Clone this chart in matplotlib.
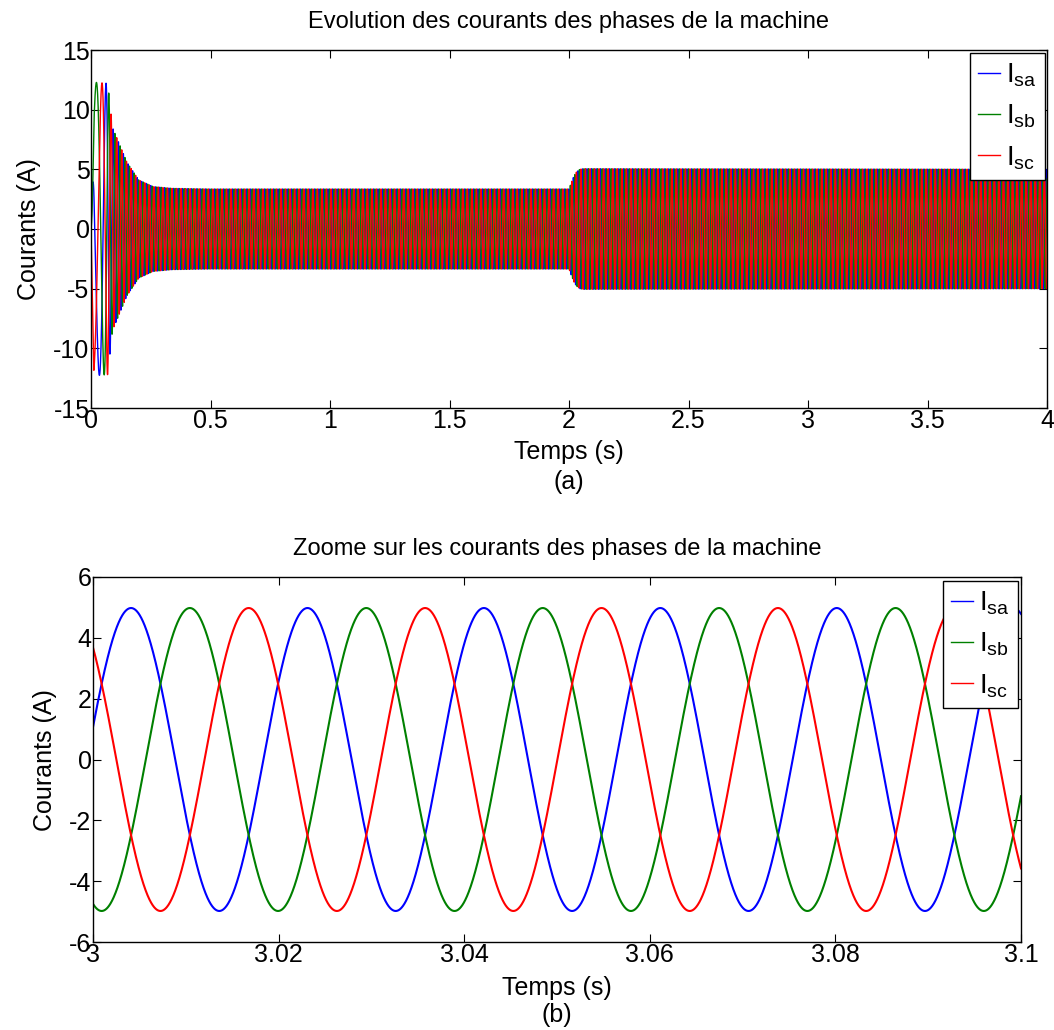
import numpy as np
import matplotlib
matplotlib.use("Agg")
import matplotlib.pyplot as plt

plt.rcParams['font.family'] = ['Liberation Sans', 'DejaVu Sans']
plt.rcParams['mathtext.fontset'] = 'custom'
plt.rcParams['mathtext.rm'] = 'Liberation Sans'
plt.rcParams['axes.unicode_minus'] = False

# ---------------- data ----------------
series_names = [r'$\mathregular{I_{sa}}$', r'$\mathregular{I_{sb}}$', r'$\mathregular{I_{sc}}$']
series_colors = ['#0000ff', '#008000', '#ff0000']
phase_shift_deg = [0, -120, -240]

# (a) full simulation 0..4 s : instantaneous electrical frequency (Hz)
freq_t = [0.0, 0.02, 0.045, 0.06, 0.075, 0.10, 0.15, 0.20, 4.0]
freq_hz = [8.0, 12.0, 16.0, 22.0, 33.0, 45.0, 52.0, 52.6, 52.6]
# current amplitude envelope (A)
amp_t = [0.0, 0.012, 0.07, 0.09, 0.15, 0.20, 0.26, 0.34, 0.50, 2.0, 2.01, 2.02, 2.03, 2.045, 2.06, 4.0]
amp_a = [0.0, 12.3, 12.2, 8.5, 5.6, 4.1, 3.55, 3.4, 3.35, 3.35, 3.9, 4.4, 4.75, 5.0, 5.05, 5.0]
start_phase_pi = 0.2

# (b) zoom 3.0..3.1 s
zoom_freq_hz = 52.6
zoom_amp = 4.98
zoom_blue_peak_t = 3.0041

xticks_a = [0, 0.5, 1, 1.5, 2, 2.5, 3, 3.5, 4]
xticklabels_a = ['0', '0.5', '1', '1.5', '2', '2.5', '3', '3.5', '4']
yticks_a = [-15, -10, -5, 0, 5, 10, 15]
xticks_b = [3, 3.02, 3.04, 3.06, 3.08, 3.1]
xticklabels_b = ['3', '3.02', '3.04', '3.06', '3.08', '3.1']
yticks_b = [-6, -4, -2, 0, 2, 4, 6]

title_a = 'Evolution des courants des phases de la machine'
title_b = 'Zoome sur les courants des phases de la machine'

# ---------------- build signals ----------------
t_a = np.linspace(0, 4, 80001)
dt = t_a[1] - t_a[0]
f_inst = np.interp(t_a, freq_t, freq_hz)
theta = start_phase_pi * np.pi + 2 * np.pi * np.concatenate([[0], np.cumsum(f_inst[:-1]) * dt])
env = np.interp(t_a, amp_t, amp_a)

t_b = np.linspace(3.0, 3.1, 6001)
theta_b = 2 * np.pi * zoom_freq_hz * (t_b - zoom_blue_peak_t)

W, H = 1054, 1030
fig = plt.figure(figsize=(W / 100, H / 100), dpi=100)

def fx(px):
    return px / W

def fy(py):
    return 1 - py / H

ax1 = fig.add_axes([fx(91), fy(408), fx(1047 - 91), (408 - 50) / H])
ax2 = fig.add_axes([fx(93), fy(942), fx(1021 - 93), (942 - 577) / H])

for name, col, ph in zip(series_names, series_colors, phase_shift_deg):
    ax1.plot(t_a, env * np.cos(theta + np.deg2rad(ph)), color=col, lw=1.0, label=name)
    ax2.plot(t_b, zoom_amp * np.cos(theta_b + np.deg2rad(ph)), color=col, lw=1.5, label=name)

tick_fs = 18
for ax in (ax1, ax2):
    ax.tick_params(direction='in', top=True, right=True, length=6, width=0.8,
                   labelsize=tick_fs, pad=1)
    for s in ax.spines.values():
        s.set_linewidth(1.0)

ax1.set_xlim(0, 4)
ax1.set_ylim(-15, 15)
ax1.set_xticks(xticks_a)
ax1.set_xticklabels(xticklabels_a)
ax1.set_yticks(yticks_a)

ax2.set_xlim(3.0, 3.1)
ax2.set_ylim(-6, 6)
ax2.set_xticks(xticks_b)
ax2.set_xticklabels(xticklabels_b)
ax2.set_yticks(yticks_b)

# titles / labels
fig.text(fx(569), fy(22), title_a, ha='center', va='center', fontsize=17)
fig.text(fx(557), fy(549), title_b, ha='center', va='center', fontsize=17)
fig.text(fx(569), fy(452), 'Temps (s)', ha='center', va='center', fontsize=18)
fig.text(fx(569), fy(482), '(a)', ha='center', va='center', fontsize=18)
fig.text(fx(557), fy(988), 'Temps (s)', ha='center', va='center', fontsize=18)
fig.text(fx(557), fy(1015), '(b)', ha='center', va='center', fontsize=18)
fig.text(fx(29), fy(229), 'Courants (A)', ha='center', va='center', rotation=90, fontsize=18)
fig.text(fx(45), fy(760), 'Courants (A)', ha='center', va='center', rotation=90, fontsize=18)

leg_kw = dict(loc='upper right', fontsize=20, handlelength=0.8, handletextpad=0.2,
              borderpad=0.3, labelspacing=0.5, borderaxespad=0, fancybox=False,
              framealpha=1, edgecolor='black')
l1 = ax1.legend(bbox_to_anchor=(fx(1045), fy(53)), bbox_transform=fig.transFigure, **leg_kw)
l2 = ax2.legend(bbox_to_anchor=(fx(1018), fy(581)), bbox_transform=fig.transFigure, **leg_kw)
for lg in (l1, l2):
    lg.get_frame().set_linewidth(1.0)
    for ln in lg.get_lines():
        ln.set_linewidth(1.0)

fig.savefig('out.png', dpi=100)
